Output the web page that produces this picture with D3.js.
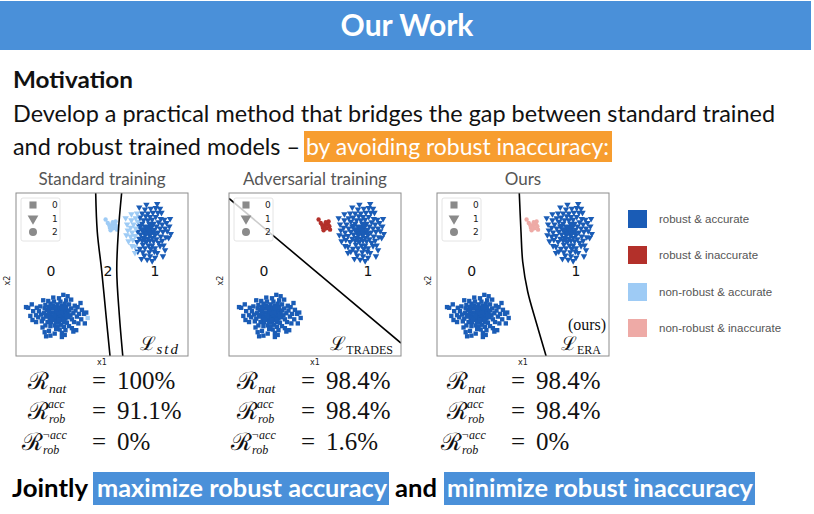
<!DOCTYPE html>
<html>
<head>
<meta charset="utf-8">
<script src="https://cdn.jsdelivr.net/npm/d3@7"></script>
<style>
  body { margin: 0; background: #fff; }
  svg { display: block; }
</style>
</head>
<body>
<svg id="chart" width="814" height="514"></svg>
<script>
// ---- data ----
const panelTitles = ['Standard training', 'Adversarial training', 'Ours'];
const lossNames = ['std', 'TRADES', 'ERA'];
const classNames = ['0', '1', '2'];
const classCenters = [[2.9, 3.0], [9.2, 9.1], [6.7, 9.6]];

// offsets of the samples around each class centre (x1, x2 units)
const class0 = [[0,0],[0.2,0.1],[-0.2,0.1],[0.1,-0.2],[-0.1,-0.2],[0.3,-0.1],[-0.3,-0.1],[0.4,0.2],[-0.4,0.2],[0.1,0.3],
  [-0.1,0.35],[0.2,-0.35],[-0.25,-0.35],[0.5,0],[-0.5,0],[0.55,-0.25],[-0.55,-0.2],[0.6,0.3],[-0.6,0.3],[0.35,0.45],
  [-0.35,0.5],[0.05,0.55],[0.1,-0.55],[-0.1,-0.5],[0.45,-0.5],[-0.45,-0.5],[0.7,0.1],[-0.7,0.05],[0.75,-0.15],[-0.8,-0.1],
  [0.8,0.35],[-0.75,0.4],[0.3,0.7],[-0.3,0.7],[0.6,0.6],[-0.6,0.6],[0.25,-0.7],[-0.2,-0.75],[0.65,-0.55],[-0.7,-0.5],
  [0.9,0],[-0.95,0.15],[1.0,-0.3],[-1.0,-0.25],[0.95,0.5],[-0.9,0.5],[0,0.8],[0,-0.85],[0.5,0.85],[-0.5,0.85],
  [0.45,-0.85],[-0.5,-0.8],[1.1,0.15],[-1.15,0.05],[1.15,-0.5],[-1.1,-0.45],[0.8,0.8],[-0.85,0.75],[0.8,-0.8],[-0.85,-0.75],
  [1.25,0.35],[-1.3,0.3],[0.2,1.0],[-0.25,1.0],[0.15,-1.05],[-0.1,-1.0],[1.35,-0.1],[-1.35,-0.15],[1.2,0.7],[-1.2,0.65],
  [1.0,-0.95],[-1.05,-0.9],[0.6,1.1],[-0.65,1.05],[0.55,-1.1],[-0.6,-1.15],[1.5,0.1],[-1.5,0.0],[1.45,-0.6],[-1.5,-0.5],
  [1.4,0.6],[-1.45,0.55],[0.1,1.25],[-0.3,1.3],[0.3,-1.3],[-0.2,-1.35],[1.65,-0.3],[-1.7,0.3],[1.7,0.4],[-1.75,-0.35],
  [0.95,1.15],[-1.0,1.1],[1.1,-1.2],[-0.9,-1.25],[1.85,0.1],[-1.9,-0.05],[2.0,0.2],[-2.05,0.55],[0.4,1.5],[0.5,-1.45],
  [-0.5,-1.5],[1.9,-0.6],[2.1,-0.2],[-1.8,0.8],[1.6,0.9],[-2.2,0.6],[0.7,1.4],[0.3,-1.6],[-0.8,-1.55],[1.3,-1.1],
  [0.15,0.05],[-0.05,0.15],[0.25,0.2],[-0.2,-0.05],[0.05,-0.35],[0.4,-0.3],[-0.4,-0.3],[0.3,0.55],[-0.15,0.6],[0.65,-0.05]];
const class1 = [[0,0],[0.15,0.2],[-0.15,0.2],[0.1,-0.2],[-0.2,-0.15],[0.3,0.05],[-0.3,0],[0.25,0.4],[-0.2,0.45],[0.05,0.4],
  [0,-0.45],[0.3,-0.4],[-0.3,-0.4],[0.45,0.2],[-0.45,0.25],[0.5,-0.2],[-0.5,-0.15],[0.1,0.65],[-0.1,-0.7],[0.4,0.65],
  [-0.4,0.65],[0.4,-0.65],[-0.4,-0.6],[0.6,0.45],[-0.6,0.45],[0.6,-0.5],[-0.6,-0.45],[0.7,0],[-0.7,0.05],[0,0.9],
  [0.05,-0.95],[0.3,0.95],[-0.3,0.9],[0.3,-0.95],[-0.35,-0.9],[0.75,0.75],[-0.7,0.8],[0.75,-0.75],[-0.75,-0.7],[0.85,0.3],
  [-0.85,0.3],[0.9,-0.3],[-0.9,-0.25],[0.15,1.15],[-0.15,1.2],[0.2,-1.2],[-0.2,-1.15],[0.55,1.15],[-0.55,1.1],[0.5,-1.15],
  [-0.55,-1.2],[1.0,0.6],[-1.0,0.6],[1.0,-0.6],[-1.05,-0.55],[1.05,0.05],[-1.1,0],[0.9,1.0],[-0.85,1.05],[0.85,-1.0],
  [-0.9,-1.05],[0.0,1.4],[0.35,1.45],[-0.4,1.4],[0.1,-1.45],[0.45,-1.4],[-0.35,-1.45],[1.2,0.3],[-1.2,0.35],[1.25,-0.35],
  [-1.2,-0.3],[1.15,0.95],[-1.15,0.9],[1.1,-0.95],[-1.1,-1.0],[0.7,1.45],[-0.75,1.4],[0.65,-1.5],[-0.7,-1.4],[1.35,0.1],
  [-1.4,0.15],[1.3,0.7],[-1.35,-0.65],[0.2,1.75],[-0.2,1.7],[0.15,-1.75],[-0.25,-1.7],[0.55,1.8],[0.95,1.45],[-0.9,-1.5],
  [0.5,-1.85],[1.45,-0.4],[1.5,0.45],[-1.5,-0.2],[-1.45,0.6],[1.2,-1.3],[-1.15,1.35],[0.85,1.75],[-0.6,1.85],[-0.1,2.05],
  [0.3,-2.1],[-0.05,-2.0],[1.55,1.0],[1.6,-0.1],[-1.55,1.05],[0.65,2.1],[1.05,-1.75],[-0.45,-1.95],
  [0.1,0.1],[-0.1,-0.05],[0.2,-0.1],[-0.1,0.35],[0.2,0.55],[-0.25,-0.55],[0.45,-0.05],[-0.5,0.5],[0.15,-0.6],[-0.35,0.2]];
const class2 = [[0,0],[0.2,0.1],[-0.2,0.05],[0.1,-0.2],[-0.15,-0.15],[0.3,-0.05],[0.05,0.25],[-0.3,0.2],[0.25,0.3],
  [-0.1,-0.35],[0.35,-0.3],[-0.45,0.45]];

// decision boundaries per panel (x1, x2)
const boundaries = [
  [[[5.56,12],[5.67,9.15],[5.98,6.26],[6.28,3.0],[6.56,0]],
   [[7.37,12],[7.14,9.15],[7.03,6.26],[7.21,3.0],[7.45,0]]],
  [[[0,11.6],[12,0.95]]],
  [[[5.74,12],[5.86,9.15],[5.98,6.94],[6.33,4.73],[6.91,2.52],[7.61,0]]]
];
const epsilon = [1.3, 1.0, 1.5];
const classAccurate = [[true, true, true], [true, true, false], [true, true, false]];
const regionLabels = [
  [['0', 2.44, 6.26], ['2', 6.42, 6.26], ['1', 9.7, 6.26]],
  [['0', 2.44, 6.26], ['1', 9.7, 6.26]],
  [['0', 2.42, 6.26], ['1', 9.7, 6.26]]
];

const statusNames = ['robust & accurate', 'robust & inaccurate', 'non-robust & accurate', 'non-robust & inaccurate'];
const statusColors = ['#1a5cb6', '#b3302a', '#9ecbf5', '#eeaaa6'];

const metricNat = ['100%', '98.4%', '98.4%'];
const metricRobAcc = ['91.1%', '98.4%', '98.4%'];
const metricRobInacc = ['0%', '1.6%', '0%'];

// ---- layout ----
const svg = d3.select('#chart');
const blue = '#4a90d9';
const sans = 'Lato, "Noto Sans", sans-serif';
const serif = '"Liberation Serif", "DejaVu Serif", serif';
const script = '"DejaVu Serif", serif';

// header
svg.append('rect').attr('x', 0).attr('y', 1).attr('width', 811).attr('height', 49).attr('fill', blue);
svg.append('text').attr('x', 407).attr('y', 36).attr('text-anchor', 'middle')
  .attr('fill', '#fff').attr('font-family', sans).attr('font-weight', 700).attr('font-size', 30)
  .text('Our Work');

svg.append('text').attr('x', 13).attr('y', 88).attr('font-family', sans).attr('font-weight', 700)
  .attr('font-size', 23).attr('fill', '#111').attr('textLength', 120).attr('lengthAdjust', 'spacingAndGlyphs')
  .text('Motivation');
svg.append('text').attr('x', 13).attr('y', 122).attr('font-family', sans).attr('font-size', 24)
  .attr('fill', '#111').attr('textLength', 762).attr('lengthAdjust', 'spacingAndGlyphs')
  .text('Develop a practical method that bridges the gap between standard trained');
svg.append('text').attr('x', 13).attr('y', 155).attr('font-family', sans).attr('font-size', 24)
  .attr('fill', '#111').attr('textLength', 287).attr('lengthAdjust', 'spacingAndGlyphs')
  .text('and robust trained models –');
svg.append('rect').attr('x', 304).attr('y', 131).attr('width', 308).attr('height', 31).attr('fill', '#f79d2f');
svg.append('text').attr('x', 306).attr('y', 155).attr('font-family', sans).attr('font-size', 24)
  .attr('fill', '#fff').attr('textLength', 303).attr('lengthAdjust', 'spacingAndGlyphs')
  .text('by avoiding robust inaccuracy:');

// panels
const panelLeft = [16, 229, 437];
const panelTop = 193;
const pw = 172, ph = 163;
const x = d3.scaleLinear().domain([0, 12]).range([0, pw]);
const y = d3.scaleLinear().domain([0, 12]).range([ph, 0]);

const symbolTypes = [d3.symbolSquare, d3.symbolTriangle, d3.symbolCircle];
const symbols = [
  d3.symbol().type(d3.symbolSquare).size(19),
  d3.symbol().type(d3.symbolTriangle).size(18),
  d3.symbol().type(d3.symbolCircle).size(15)
];
const rotations = [0, 180, 0];

function segDist(p, a, b) {
  const dx = b[0] - a[0], dy = b[1] - a[1];
  let t = ((p[0] - a[0]) * dx + (p[1] - a[1]) * dy) / (dx * dx + dy * dy);
  t = Math.max(0, Math.min(1, t));
  return Math.hypot(p[0] - a[0] - t * dx, p[1] - a[1] - t * dy);
}
function boundaryDist(p, lines) {
  let best = Infinity;
  lines.forEach(l => {
    for (let i = 0; i < l.length - 1; i++) best = Math.min(best, segDist(p, l[i], l[i + 1]));
  });
  return best;
}

const classes = [class0, class1, class2];
const line = d3.line().x(d => x(d[0])).y(d => y(d[1])).curve(d3.curveCatmullRom);

panelTitles.forEach((title, pi) => {
  const g = svg.append('g').attr('transform', `translate(${panelLeft[pi]},${panelTop})`);

  g.append('text').attr('x', pw / 2).attr('y', -8).attr('text-anchor', 'middle')
    .attr('font-family', sans).attr('font-size', 17).attr('fill', '#555').text(title);

  g.append('clipPath').attr('id', 'clip' + pi)
    .append('rect').attr('width', pw).attr('height', ph);
  const inner = g.append('g').attr('clip-path', `url(#clip${pi})`);

  const pts = [];
  classes.forEach((offs, ci) => {
    offs.forEach(o => {
      const p = [classCenters[ci][0] + o[0], classCenters[ci][1] + o[1]];
      const robust = boundaryDist(p, boundaries[pi]) > epsilon[pi];
      const acc = classAccurate[pi][ci];
      pts.push({p, ci, status: (robust ? 0 : 2) + (acc ? 0 : 1)});
    });
  });

  inner.selectAll('.pt').data(pts).enter().append('path')
    .attr('class', 'pt')
    .attr('d', d => symbols[d.ci]())
    .attr('transform', d => `translate(${x(d.p[0])},${y(d.p[1])}) rotate(${rotations[d.ci]})`)
    .attr('fill', d => statusColors[d.status]);

  boundaries[pi].forEach(b => {
    inner.append('path').attr('d', line(b)).attr('fill', 'none')
      .attr('stroke', '#000').attr('stroke-width', 1.6);
  });

  regionLabels[pi].forEach(r => {
    inner.append('text').attr('x', x(r[1])).attr('y', y(r[2])).attr('dy', '0.35em')
      .attr('text-anchor', 'middle').attr('font-family', '"DejaVu Sans", sans-serif')
      .attr('font-size', 14).attr('fill', '#111').text(r[0]);
  });

  // marker legend
  const lg = inner.append('g').attr('transform', 'translate(5,5)');
  lg.append('rect').attr('width', 39).attr('height', 43).attr('rx', 2)
    .attr('fill', '#fff').attr('fill-opacity', 0.8).attr('stroke', '#ddd').attr('stroke-width', 0.8);
  classNames.forEach((c, ci) => {
    lg.append('path').attr('d', d3.symbol().type(symbolTypes[ci]).size(50)())
      .attr('transform', `translate(12,${7 + ci * 13.5}) rotate(${rotations[ci]})`).attr('fill', '#8a8a8a');
    lg.append('text').attr('x', 31).attr('y', 7 + ci * 13.5).attr('dy', '0.35em')
      .attr('font-family', '"DejaVu Sans", sans-serif').attr('font-size', 9).attr('fill', '#222').text(c);
  });

  // frame
  g.append('rect').attr('width', pw).attr('height', ph).attr('fill', 'none')
    .attr('stroke', '#8c8c8c').attr('stroke-width', 1);

  // axis names
  g.append('text').attr('x', pw / 2).attr('y', ph + 9).attr('text-anchor', 'middle')
    .attr('font-family', '"DejaVu Sans", sans-serif').attr('font-size', 8).attr('fill', '#222').text('x1');
  g.append('text').attr('transform', `translate(-6,${ph / 2 + 6}) rotate(-90)`).attr('text-anchor', 'middle')
    .attr('font-family', '"DejaVu Sans", sans-serif').attr('font-size', 8).attr('fill', '#222').text('x2');

  // loss name
  const lt = g.append('text').attr('x', pw - 8).attr('y', ph - 6).attr('text-anchor', 'end').attr('fill', '#111');
  lt.append('tspan').attr('font-family', script).attr('font-size', 19).text('ℒ');
  lt.append('tspan').attr('font-family', serif).attr('font-size', pi === 0 ? 15 : 12)
    .attr('font-style', pi === 0 ? 'italic' : 'normal')
    .attr('dy', 4).attr('letter-spacing', pi === 0 ? 2 : 0).text(lossNames[pi]);
  if (pi === 2) {
    g.append('text').attr('x', pw - 22).attr('y', ph - 26).attr('text-anchor', 'middle')
      .attr('font-family', serif).attr('font-size', 16).attr('fill', '#111').text('(ours)');
  }
});

// status legend
const sl = svg.append('g').attr('transform', 'translate(628,0)');
const legY = [219, 255, 292, 328];
statusNames.forEach((s, i) => {
  sl.append('rect').attr('x', 0).attr('y', legY[i] - 9).attr('width', 19).attr('height', 18).attr('fill', statusColors[i]);
  sl.append('text').attr('x', 31).attr('y', legY[i]).attr('dy', '0.35em')
    .attr('font-family', '"Liberation Sans", Arial, sans-serif').attr('font-size', 11.5).attr('fill', '#555').text(s);
});

// metrics: R symbol with stacked sub/superscript
const eqX = [92, 301, 511];
const rowY = [389, 419, 450];
function rSym(px, py, sub, sup) {
  svg.append('text').attr('x', px).attr('y', py).attr('font-family', script)
    .attr('font-size', 24).attr('fill', '#111').text('ℛ');
  if (sup) {
    svg.append('text').attr('x', px + 20).attr('y', py - 11).attr('font-family', serif)
      .attr('font-style', 'italic').attr('font-size', 12).attr('fill', '#111').text(sup);
  }
  svg.append('text').attr('x', px + 21).attr('y', py + 4).attr('font-family', serif)
    .attr('font-style', 'italic').attr('font-size', sup ? 12 : 13.5).attr('fill', '#111').text(sub);
}
eqX.forEach((ex, i) => {
  rSym(ex - 64, rowY[0], 'nat', null);
  rSym(ex - 64, rowY[1], 'rob', 'acc');
  rSym(ex - 70, rowY[2], 'rob', '¬acc');
  [metricNat[i], metricRobAcc[i], metricRobInacc[i]].forEach((v, r) => {
    svg.append('text').attr('x', ex).attr('y', rowY[r]).attr('font-family', serif)
      .attr('font-size', 25).attr('fill', '#111').text('=');
    svg.append('text').attr('x', ex + 25).attr('y', rowY[r]).attr('font-family', serif)
      .attr('font-size', 25).attr('fill', '#111').text(v);
  });
});

// bottom line
svg.append('text').attr('x', 12).attr('y', 497).attr('font-family', sans).attr('font-weight', 700)
  .attr('font-size', 24).attr('fill', '#000').attr('textLength', 76).attr('lengthAdjust', 'spacingAndGlyphs').text('Jointly');
svg.append('rect').attr('x', 93).attr('y', 472).attr('width', 296).attr('height', 33).attr('fill', blue);
svg.append('text').attr('x', 97).attr('y', 497).attr('font-family', sans).attr('font-weight', 700)
  .attr('font-size', 24).attr('fill', '#fff').attr('textLength', 290).attr('lengthAdjust', 'spacingAndGlyphs')
  .text('maximize robust accuracy');
svg.append('text').attr('x', 395).attr('y', 497).attr('font-family', sans).attr('font-weight', 700)
  .attr('font-size', 24).attr('fill', '#000').attr('textLength', 42).attr('lengthAdjust', 'spacingAndGlyphs').text('and');
svg.append('rect').attr('x', 444).attr('y', 472).attr('width', 311).attr('height', 33).attr('fill', blue);
svg.append('text').attr('x', 447).attr('y', 497).attr('font-family', sans).attr('font-weight', 700)
  .attr('font-size', 24).attr('fill', '#fff').attr('textLength', 306).attr('lengthAdjust', 'spacingAndGlyphs')
  .text('minimize robust inaccuracy');
</script>
</body>
</html>
